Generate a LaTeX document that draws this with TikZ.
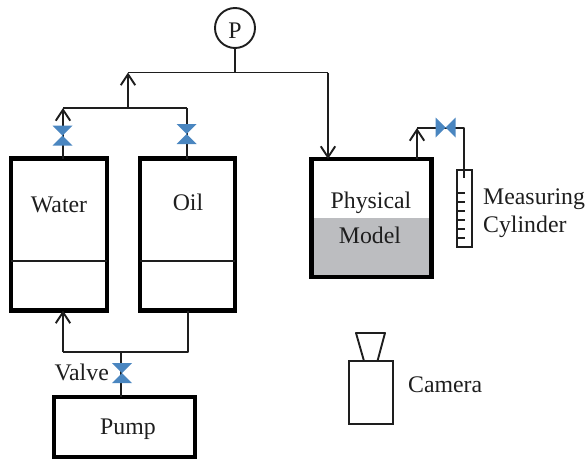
\documentclass[tikz,border=0pt]{standalone}
\usepackage{fontspec}
\setmainfont{Liberation Serif}
\usetikzlibrary{arrows.meta,calc}
\definecolor{valveblue}{HTML}{4A86C0}
\definecolor{modelgray}{HTML}{BCBDC0}
\definecolor{inkc}{HTML}{1E1E1E}
\tikzset{
  x=1pt,y=-1pt,
  pipe/.style={draw=inkc,line width=1.9pt,line join=round},
  arrowpipe/.style={pipe,-{Straight Barb[length=11pt,width=14.5pt,line width=1.9pt]}},
  tank/.style={draw=black,line width=4.6pt,minimum width=#1,inner sep=0pt,outer sep=0pt,rectangle},
  lab/.style={inner sep=0pt,text=inkc,font=\fontsize{23.8pt}{28pt}\selectfont},
  vvalve/.style={minimum size=20pt,inner sep=0pt,outer sep=0pt,rectangle,
    path picture={\fill[valveblue] (path picture bounding box.north west)--(path picture bounding box.north east)--(path picture bounding box.south west)--(path picture bounding box.south east)--cycle;}},
  hvalve/.style={minimum size=20pt,inner sep=0pt,outer sep=0pt,rectangle,
    path picture={\fill[valveblue] (path picture bounding box.north west)--(path picture bounding box.south west)--(path picture bounding box.north east)--(path picture bounding box.south east)--cycle;}},
  thin box/.style={draw=inkc,line width=1.9pt,rectangle,inner sep=0pt,outer sep=0pt},
}
\begin{document}
\begin{tikzpicture}
\useasboundingbox (0,0) rectangle (586,460);
% tanks
\node[tank=96pt,minimum height=152pt] (water) at (59,234.5) {};
\node[tank=95pt,minimum height=152pt] (oil) at (187.5,234.5) {};
\fill[modelgray] (313,218) rectangle (431,276);
\node[tank=120.5pt,minimum height=118pt] (model) at (371.5,218) {};
\node[tank=141pt,minimum height=60pt] (pump) at (124.5,427) {};
\draw[pipe] (water.west |- 0,261) -- (water.east |- 0,261);
\draw[pipe] (oil.west |- 0,261) -- (oil.east |- 0,261);
% gauge
\node[draw=inkc,line width=1.9pt,circle,minimum size=40pt,inner sep=0pt] (gauge) at (235,28) {};
\node[lab] (ptext) at (235,31) {P};
% junctions
\coordinate (top) at (235,72.5);
\coordinate (topl) at (128,72.5);
\coordinate (topr) at (328,72.5);
\coordinate (mid) at (128,108);
\coordinate (midl) at (63,108);
\coordinate (midr) at (187,108);
\coordinate (botl) at (63,352);
\coordinate (botm) at (121,352);
\coordinate (botr) at (188,352);
\coordinate (outc) at (417,128);
\coordinate (outr) at (464,128);
\coordinate (v1c) at (62.5,135.5);
\coordinate (v2c) at (186.5,134);
\coordinate (v3c) at (122,373);
\coordinate (v4c) at (445.5,127.5);
% cylinder
\node[thin box,minimum width=15pt,minimum height=77pt] (cyl) at (464.5,208.5) {};
\foreach \yy in {193,202,211,220,229,238}{\draw[pipe,line width=1.3pt] (cyl.west |- 0,\yy) -- ++(8,0);}
% pipes
\draw[pipe] (gauge.south) -- (top);
\draw[pipe] (topl) -- (topr);
\draw[arrowpipe] (mid) -- (topl);
\draw[arrowpipe] (topr) -- (topr |- model.north);
\draw[pipe] (midl) -- (midr);
\draw[arrowpipe] (water.north -| midl) -- (midl);
\draw[pipe] (oil.north -| midr) -- (midr);
\draw[pipe] (botl) -- (botr) -- (botr |- oil.south);
\draw[arrowpipe] (botl) -- (botl |- water.south);
\draw[pipe] (botm) -- (botm |- pump.north);
\draw[arrowpipe] (outc |- model.north) -- (outc);
\draw[pipe] (outc) -- (outr) -- (464,178);
% valves
\node[vvalve] (v1) at (v1c) {};
\node[vvalve] (v2) at (v2c) {};
\node[vvalve] (v3) at (v3c) {};
\node[hvalve] (v4) at (v4c) {};
% camera
\node[thin box,minimum width=44pt,minimum height=63pt] (cam) at (371,392.5) {};
\draw[pipe] (364,361) -- (356,333) -- (385,333) -- (377.5,361);
% labels
\node[lab] (twater) at (59,205) {Water};
\node[lab] (toil) at (188,202) {Oil};
\node[lab] (tphys) at (371,203) {Physical};
\node[lab] (tmodel) at (370,235) {Model};
\node[lab,anchor=west] (tmeas) at (483,199) {Measuring};
\node[lab,anchor=west] (tcyl) at (483,227) {Cylinder};
\node[lab,anchor=east] (tvalve) at (109,372) {Valve};
\node[lab] (tpump) at (128,429) {Pump};
\node[lab,anchor=west] (tcam) at (408,385) {Camera};
\end{tikzpicture}
\end{document}
